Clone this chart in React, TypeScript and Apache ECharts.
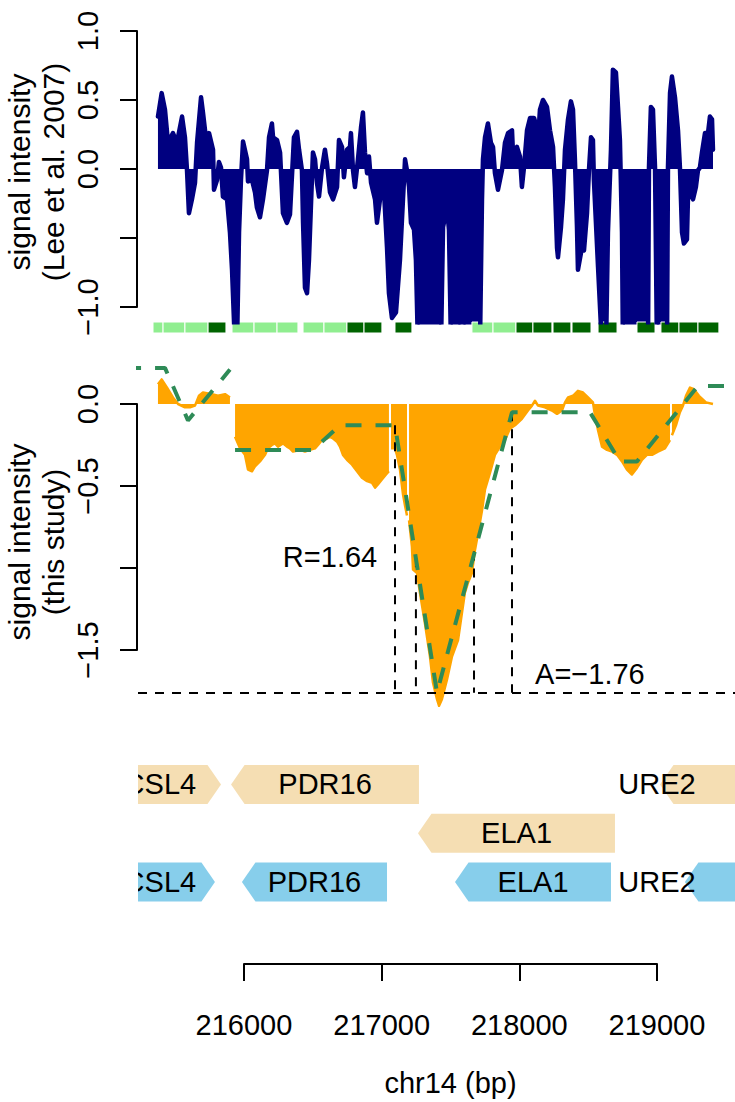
import { useEffect, useRef } from "react";
import * as echarts from "echarts";

const FONT = "'Liberation Sans', Arial, Helvetica, sans-serif";

// genomic window shown (bp)
const X_MIN = 215230;
const X_MAX = 219567;

// Lee et al. 2007 tiling signal: [position bp, signal]
const leeSignal: [number, number][] = [
  [215375, 0.38], [215402, 0.55], [215426, 0.43], [215448, 0.19], [215484, 0.26], [215513, 0.19], [215550, 0.38], [215571, 0.23],
  [215586, -0.01], [215600, -0.32], [215622, -0.22], [215644, -0.1], [215659, 0.19], [215688, 0.52], [215702, 0.41], [215731, 0.16],
  [215746, 0.26], [215775, 0.14], [215782, -0.15], [215804, -0.08], [215818, 0.05], [215833, 0.01], [215847, -0.2], [215877, -0.22],
  [215898, -0.46], [215913, -0.73], [215935, -1.3], [215949, -1.3], [215964, -0.46], [215978, -0.08], [215993, 0.2], [216022, 0.07],
  [216029, -0.09], [216058, -0.08], [216080, -0.17], [216094, -0.28], [216116, -0.35], [216138, -0.22], [216167, -0.01], [216182, 0.23],
  [216203, 0.33], [216211, 0.23], [216240, 0.21], [216262, 0.12], [216283, -0.32], [216312, -0.39], [216334, -0.33], [216363, 0.23],
  [216385, 0.27], [216400, 0.14], [216421, -0.01], [216429, -0.39], [216443, -0.86], [216458, -0.9], [216472, -0.66], [216494, -0.06],
  [216501, 0.12], [216516, 0.07], [216530, -0.1], [216545, -0.2], [216567, 0.01], [216588, 0.14], [216603, 0.04], [216625, -0.17],
  [216647, -0.22], [216676, -0.13], [216690, 0.21], [216712, 0.16], [216726, -0.06], [216748, 0.14], [216770, 0.16], [216777, 0.26],
  [216792, -0.01], [216806, -0.13], [216828, 0.07], [216850, 0.3], [216864, 0.41], [216879, 0.12], [216894, -0.03], [216908, 0.09],
  [216923, -0.1], [216952, -0.22], [216966, -0.39], [216988, -0.22], [217010, -0.03], [217039, -0.57], [217053, -0.9], [217075, -1.08],
  [217104, -1.04], [217133, -0.66], [217155, -0.22], [217170, 0.07], [217184, -0.01], [217199, -0.13], [217213, -0.39], [217235, -0.44],
  [217249, -0.66], [217264, -1.3], [217431, -1.3], [217446, -0.42], [217475, -0.28], [217489, -0.44], [217504, -1.3], [217569, -1.3],
  [217584, -0.71], [217598, -1.3], [217714, -1.3], [217729, -0.22], [217736, 0.07], [217751, 0.23], [217772, 0.33], [217794, 0.19],
  [217809, 0.16], [217823, -0.03], [217845, -0.15], [217874, -0.01], [217896, 0.19], [217918, 0.26], [217947, 0.28], [217954, 0.12],
  [217983, 0.16], [218005, 0.09], [218019, -0.13], [218034, 0.01], [218056, 0.28], [218078, 0.37], [218107, 0.37], [218128, 0.3],
  [218136, 0.21], [218150, 0.43], [218172, 0.5], [218201, 0.45], [218223, 0.28], [218245, 0.16], [218259, -0.13], [218274, -0.57],
  [218281, -0.64], [218303, -0.42], [218317, -0.22], [218332, 0.14], [218354, 0.36], [218375, 0.49], [218390, 0.43], [218404, 0.07],
  [218419, -0.42], [218426, -0.73], [218455, -0.57], [218470, -0.59], [218492, -0.32], [218506, -0.01], [218521, 0.23], [218535, 0.21],
  [218542, -0.08], [218572, -0.71], [218601, -1.3], [218630, -1.3], [218644, -0.46], [218666, 0.14], [218680, 0.72], [218702, 0.7],
  [218717, 0.45], [218731, 0.21], [218746, -0.46], [218753, -1.3], [218935, -1.3], [218942, 0.01], [218956, 0.45], [218971, 0.43],
  [218986, 0.01], [219000, -1.3], [219073, -1.3], [219080, 0.01], [219095, 0.55], [219109, 0.67], [219131, 0.52], [219153, 0.28],
  [219167, 0.01], [219182, -0.46], [219196, -0.54], [219218, -0.51], [219225, -0.22], [219247, -0.17], [219262, -0.22], [219283, -0.13],
  [219298, -0.01], [219312, 0.01], [219327, 0.12], [219349, 0.26], [219371, 0.26], [219385, 0.38], [219400, 0.36], [219407, 0.14],
];

// tiles below the top track: [start bp, end bp, class (1 = dark)]
const tiles: [number, number, number][] = [
  [215339, 215412, 0], [215412, 215571, 0], [215571, 215739, 0], [215739, 215869, 1], [215913, 216073, 0], [216073, 216240, 0],
  [216240, 216392, 0], [216429, 216581, 0], [216581, 216748, 0], [216748, 216872, 1], [216872, 217002, 1], [217097, 217220, 1],
  [217656, 217809, 0], [217809, 217976, 0], [217976, 218099, 1], [218099, 218237, 1], [218245, 218375, 1], [218383, 218521, 1],
  [218572, 218710, 1], [218855, 218986, 1], [219029, 219160, 1], [219160, 219298, 1], [219298, 219450, 1],
];

// this study signal: [position bp, signal] (null = gap)
const studySignal: [number, number | null][] = [
  [215375, 0.12], [215402, 0.15], [215441, 0.1], [215484, 0.04], [215521, 0.0], [215571, -0.02], [215608, -0.02], [215644, -0.01],
  [215673, 0.05], [215702, 0.07], [215768, 0.06], [215811, 0.05], [215862, 0.06], [215898, 0.04], [215913, null],
  [215935, -0.2], [215971, -0.27], [216007, -0.31], [216029, -0.4], [216058, -0.41], [216080, -0.38], [216116, -0.35], [216153, -0.31],
  [216174, -0.27], [216203, -0.25], [216225, -0.24], [216247, -0.26], [216283, -0.24], [216312, -0.26], [216334, -0.27], [216356, -0.29],
  [216407, -0.28], [216443, -0.29], [216479, -0.28], [216516, -0.27], [216538, -0.25], [216567, -0.22], [216603, -0.21], [216625, -0.2],
  [216647, -0.21], [216676, -0.23], [216697, -0.26], [216719, -0.31], [216748, -0.34], [216785, -0.37], [216821, -0.41], [216857, -0.45],
  [216894, -0.47], [216930, -0.48], [216952, -0.51], [216973, -0.49], [217002, -0.46], [217032, -0.43], [217053, -0.41], [217061, null],
  [217068, -0.27], [217097, -0.27], [217111, -0.31], [217133, -0.4], [217155, -0.55], [217170, -0.62], [217184, -0.68], [217191, null],
  [217199, -0.71], [217220, -0.87], [217228, -1.01], [217257, -1.03], [217278, -1.15], [217315, -1.34], [217351, -1.54], [217373, -1.7],
  [217402, -1.8], [217417, -1.84], [217438, -1.8], [217475, -1.68], [217511, -1.54], [217555, -1.44], [217584, -1.27], [217605, -1.15],
  [217627, -1.09], [217656, -1.03], [217678, -0.89], [217700, -0.79], [217729, -0.65], [217751, -0.52], [217787, -0.42], [217823, -0.31],
  [217860, -0.26], [217896, -0.22], [217932, -0.15], [217969, -0.13], [218019, -0.09], [218063, -0.04], [218092, -0.01], [218114, 0.02],
  [218136, -0.01], [218186, -0.02], [218237, -0.04], [218274, -0.06], [218310, -0.04], [218332, 0.01], [218354, 0.04], [218390, 0.05],
  [218426, 0.08], [218463, 0.07], [218499, 0.04], [218535, 0.01], [218550, -0.07], [218572, -0.16], [218601, -0.26], [218637, -0.28],
  [218673, -0.29], [218710, -0.31], [218746, -0.35], [218782, -0.4], [218818, -0.43], [218855, -0.39], [218891, -0.34], [218927, -0.31],
  [218964, -0.31], [219007, -0.29], [219058, -0.27], [219095, -0.22], [219102, null],
  [219109, -0.19], [219138, -0.13], [219167, -0.05], [219189, -0.01], [219211, 0.05], [219240, 0.1], [219269, 0.09], [219305, 0.05],
  [219356, 0.01], [219407, 0.0],
];

// segmented fit of this study's signal
const fitLine: [number, number | null][] = [
  [215136, 0.22], [215426, 0.22], [215593, -0.1], [215898, 0.21], [215915, null],
  [215935, -0.28], [216501, -0.28], [216697, -0.13], [217097, -0.13], [217402, -1.76], [217947, -0.05],
  [218513, -0.05], [218731, -0.35], [218855, -0.35], [219298, 0.11], [219748, 0.11],
];

const amplitude = -1.76;
// boundaries of the peak: [position bp, top value]
const peakBounds: [number, number][] = [[217097, -0.13], [217249, -0.94], [217671, -0.9], [217947, -0.05]];
const noteTexts = ["R=1.64", "A=\u22121.76"];
const notePos: [number, number][] = [[216625, -0.93], [218513, -1.646]];

// genes
const geneNames = ["CSL4", "PDR16", "URE2", "ELA1", "CSL4", "PDR16", "ELA1", "URE2"];
const geneStart = [214947, 215906, 219022, 217264, 214947, 215985, 217533, 219203];
const geneEnd = [215833, 217271, 219900, 218695, 215789, 217039, 218666, 219900];
const geneStrand = [1, -1, -1, -1, 1, -1, -1, -1];
const geneRow = [3, 3, 3, 2, 1, 1, 1, 1];
const geneLabelPos = [215389, 216589, 219000, 217980, 215389, 216512, 218100, 219000];

const xTicks = [216000, 217000, 218000, 219000];
const topHiddenLabel = -0.5;
const midHiddenLabel = -1.0;

const fmtTick = (v: number) => (Math.abs(v) < 1e-9 ? "0.0" : v.toFixed(1).replace("-", "\u2212"));

export default function App() {
  const ref = useRef<HTMLDivElement>(null);
  useEffect(() => {
    document.body.style.margin = "0";
    if (!ref.current) return;
    const chart = echarts.init(ref.current, undefined, { renderer: "svg" });

    const hiddenX = (grid: number) => ({ type: "value", gridIndex: grid, min: X_MIN, max: X_MAX, show: false });
    const yAxisStyled = (grid: number, min: number, max: number, hide: number) => ({
      type: "value",
      gridIndex: grid,
      min,
      max,
      interval: 0.5,
      axisLine: { show: true, lineStyle: { color: "#000", width: 2 } },
      axisTick: { show: true, inside: false, length: 17, lineStyle: { color: "#000", width: 2 } },
      axisLabel: {
        show: true,
        rotate: 90,
        margin: 35,
        fontSize: 29,
        fontFamily: FONT,
        color: "#000",
        formatter: (v: number) => (Math.abs(v - hide) < 1e-9 ? "" : fmtTick(v)),
      },
      splitLine: { show: false },
    });
    const hiddenY = (grid: number, min: number, max: number) => ({ type: "value", gridIndex: grid, min, max, show: false });

    const gridBase = { containLabel: false, outerBoundsMode: "none" };

    const option: any = {
      animation: false,
      backgroundColor: "#fff",
      grid: [
        { ...gridBase, left: 137, top: 31, width: 598, height: 276 },
        { ...gridBase, left: 138, top: 19.96, width: 597, height: 302.22 },
        { ...gridBase, left: 138, top: 322, width: 597, height: 11 },
        { ...gridBase, left: 137, top: 404, width: 598, height: 246 },
        { ...gridBase, left: 138, top: 366.28, width: 597, height: 349.32 },
        { ...gridBase, left: 138, top: 760, width: 597, height: 146.25 },
        { ...gridBase, left: 244, top: 900, width: 413, height: 64 },
      ],
      xAxis: [
        hiddenX(0),
        hiddenX(1),
        hiddenX(2),
        hiddenX(3),
        hiddenX(4),
        hiddenX(5),
        {
          type: "value",
          gridIndex: 6,
          min: xTicks[0],
          max: xTicks[xTicks.length - 1],
          interval: 1000,
          axisLine: { show: true, lineStyle: { color: "#000", width: 2 } },
          axisTick: { show: true, inside: false, length: 17, lineStyle: { color: "#000", width: 2 } },
          axisLabel: { show: true, margin: 46, fontSize: 29, fontFamily: FONT, color: "#000", formatter: (v: number) => String(v) },
          splitLine: { show: false },
          name: "chr14 (bp)",
          nameLocation: "middle",
          nameGap: 104,
          nameTextStyle: { fontSize: 29, fontFamily: FONT, color: "#000" },
        },
      ],
      yAxis: [
        yAxisStyled(0, -1, 1, topHiddenLabel),
        hiddenY(1, -1.11, 1.08),
        hiddenY(2, 0, 1),
        yAxisStyled(3, -1.5, 0, midHiddenLabel),
        hiddenY(4, -1.9, 0.23),
        hiddenY(5, 0.5, 3.5),
        hiddenY(6, 0, 1),
      ],
      graphic: [
        { type: "text", x: 19, y: 172, rotation: Math.PI / 2, style: { text: "signal intensity", font: `30px ${FONT}`, fill: "#000", align: "center", verticalAlign: "middle" } },
        { type: "text", x: 53, y: 172, rotation: Math.PI / 2, style: { text: "(Lee et al. 2007)", font: `30px ${FONT}`, fill: "#000", align: "center", verticalAlign: "middle" } },
        { type: "text", x: 19, y: 542, rotation: Math.PI / 2, style: { text: "signal intensity", font: `30px ${FONT}`, fill: "#000", align: "center", verticalAlign: "middle" } },
        { type: "text", x: 53, y: 542, rotation: Math.PI / 2, style: { text: "(this study)", font: `30px ${FONT}`, fill: "#000", align: "center", verticalAlign: "middle" } },
      ],
      series: [
        {
          type: "line",
          xAxisIndex: 1,
          yAxisIndex: 1,
          data: leeSignal,
          symbol: "none",
          clip: true,
          lineStyle: { color: "#000080", width: 4.5, cap: "round", join: "round" },
          areaStyle: { color: "#000080", opacity: 1, origin: 0 },
          z: 2,
        },
        {
          type: "custom",
          xAxisIndex: 2,
          yAxisIndex: 2,
          data: tiles,
          renderItem: (_p: any, api: any) => {
            const a = api.coord([api.value(0), 1]);
            const b = api.coord([api.value(1), 0]);
            return {
              type: "rect",
              shape: { x: a[0], y: a[1], width: b[0] - a[0], height: b[1] - a[1] },
              style: { fill: api.value(2) === 1 ? "#006400" : "#90EE90", stroke: "#fff", lineWidth: 1 },
            };
          },
        },
        {
          type: "line",
          xAxisIndex: 4,
          yAxisIndex: 4,
          data: studySignal,
          symbol: "none",
          clip: true,
          connectNulls: false,
          lineStyle: { color: "#FFA500", width: 2.5, join: "round" },
          areaStyle: { color: "#FFA500", opacity: 1, origin: 0 },
          z: 2,
        },
        {
          type: "custom",
          xAxisIndex: 4,
          yAxisIndex: 4,
          data: peakBounds,
          z: 3,
          renderItem: (_p: any, api: any) => {
            const a = api.coord([api.value(0), api.value(1)]);
            const b = api.coord([api.value(0), amplitude]);
            return {
              type: "line",
              shape: { x1: a[0], y1: a[1], x2: b[0], y2: b[1] },
              style: { stroke: "#000", lineWidth: 2, lineDash: [9, 8] },
            };
          },
        },
        {
          type: "line",
          xAxisIndex: 4,
          yAxisIndex: 4,
          data: fitLine,
          symbol: "none",
          clip: true,
          connectNulls: false,
          lineStyle: { color: "#2E8B57", width: 4, type: [16, 14] },
          z: 4,
          markLine: {
            silent: true,
            symbol: ["none", "none"],
            label: { show: false },
            lineStyle: { color: "#000", width: 2, type: [9, 8] },
            data: [{ yAxis: amplitude }],
          },
        },
        {
          type: "custom",
          xAxisIndex: 4,
          yAxisIndex: 4,
          data: notePos.map((p, i) => [p[0], p[1], i]),
          z: 5,
          renderItem: (_p: any, api: any) => {
            const c = api.coord([api.value(0), api.value(1)]);
            return {
              type: "text",
              x: c[0],
              y: c[1],
              style: { text: noteTexts[api.value(2)], font: `29px ${FONT}`, fill: "#000", align: "center", verticalAlign: "middle" },
            };
          },
        },
        {
          type: "custom",
          xAxisIndex: 5,
          yAxisIndex: 5,
          clip: true,
          data: geneNames.map((_, i) => [geneStart[i], geneEnd[i], geneRow[i], geneStrand[i], geneLabelPos[i], i]),
          renderItem: (_p: any, api: any) => {
            const row = api.value(2);
            const p1 = api.coord([api.value(0), row]);
            const p2 = api.coord([api.value(1), row]);
            const h = api.size([0, 0.8])[1];
            const y0 = p1[1] - h / 2;
            const y1 = p1[1] + h / 2;
            const head = 13.5;
            const pts =
              api.value(3) > 0
                ? [[p1[0], y0], [p2[0] - head, y0], [p2[0], p1[1]], [p2[0] - head, y1], [p1[0], y1]]
                : [[p1[0], p1[1]], [p1[0] + head, y0], [p2[0], y0], [p2[0], y1], [p1[0] + head, y1]];
            const lx = api.coord([api.value(4), row])[0];
            return {
              type: "group",
              children: [
                { type: "polygon", shape: { points: pts }, style: { fill: row === 1 ? "#87CEEB" : "#F5DEB3" } },
                {
                  type: "text",
                  x: lx,
                  y: p1[1],
                  style: { text: geneNames[api.value(5)], font: `29px ${FONT}`, fill: "#000", align: "center", verticalAlign: "middle" },
                },
              ],
            };
          },
        },
      ],
    };

    chart.setOption(option);
    return () => chart.dispose();
  }, []);

  return <div ref={ref} style={{ position: "absolute", left: 0, top: 0, width: 735, height: 1102 }} />;
}
